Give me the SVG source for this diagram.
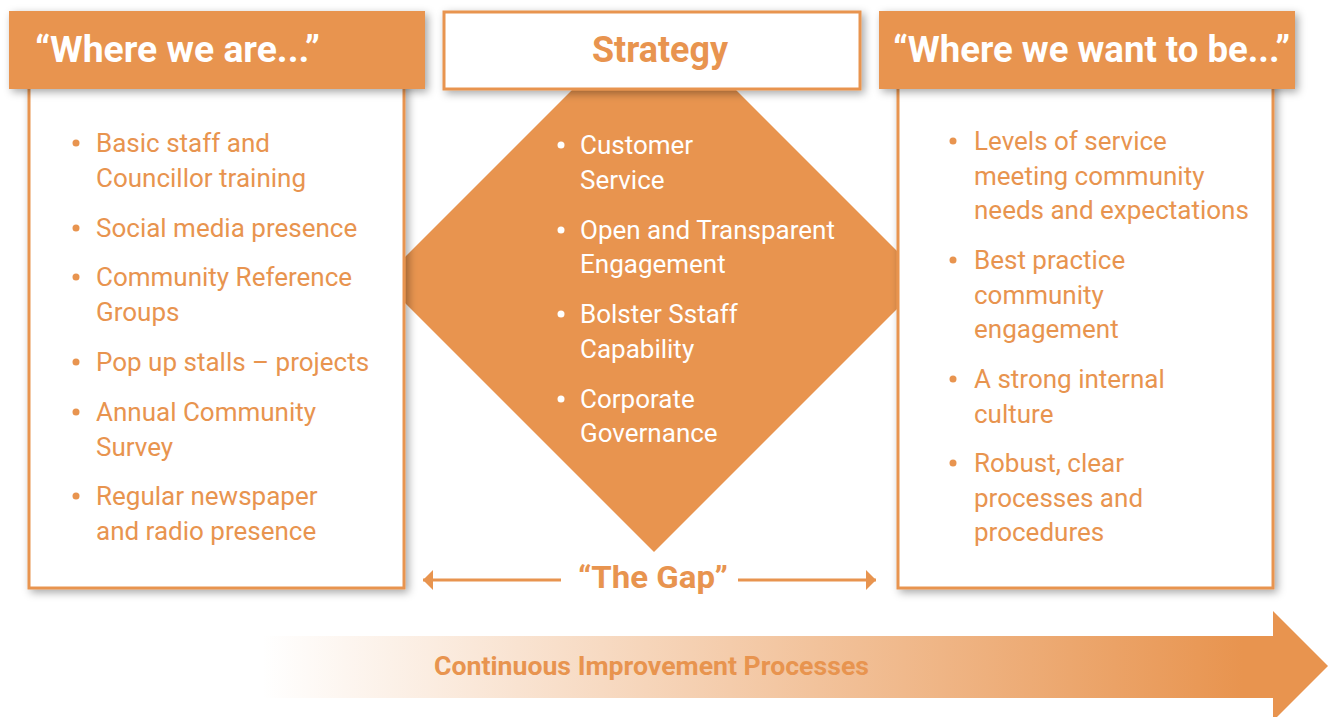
<svg xmlns="http://www.w3.org/2000/svg" width="1335" height="717" viewBox="0 0 1335 717">
  <defs>
    <filter id="shadow" x="-10%" y="-10%" width="130%" height="130%">
      <feDropShadow dx="3" dy="3" stdDeviation="4" flood-color="#000" flood-opacity="0.35"/>
    </filter>
    <linearGradient id="ciFade" x1="262" y1="0" x2="1328" y2="0" gradientUnits="userSpaceOnUse">
      <stop offset="0" stop-color="#E8944F" stop-opacity="0"/>
      <stop offset="0.92" stop-color="#E8944F" stop-opacity="1"/>
      <stop offset="1" stop-color="#E8944F" stop-opacity="1"/>
    </linearGradient>
    <marker id="gapHead" viewBox="0 0 10 20" refX="10" refY="10" markerWidth="10" markerHeight="20" markerUnits="userSpaceOnUse" orient="auto-start-reverse">
      <path d="M0,0 L10,10 L0,20 Z" fill="#E8944F"/>
    </marker>
    <style>
      .body { font-family: Roboto, "Liberation Sans", sans-serif; font-size: 26px; fill: #E8944F; }
      .bodyW { font-family: Roboto, "Liberation Sans", sans-serif; font-size: 26px; fill: #FFFFFF; }
      .head { font-family: Roboto, "Liberation Sans", sans-serif; font-size: 36px; font-weight: 700; }
      .box { fill: #FFFFFF; stroke: #E8944F; stroke-width: 3; }
      .hdr { fill: #E8944F; }
      .dotO { fill: #E8944F; }
      .dotW { fill: #FFFFFF; }
    </style>
  </defs>

  <rect width="1335" height="717" fill="#FFFFFF"/>

  <!-- strategy diamond, sitting behind the side boxes and header -->
  <g id="diamond">
    <polygon points="642,20 666,20 926,280 654,552 382,280" fill="#E8944F"/>
  </g>

  <!-- left column: current state -->
  <g id="where-we-are">
    <rect class="box" x="29" y="80" width="375" height="508" filter="url(#shadow)"/>
    <rect class="hdr" x="9" y="11" width="416" height="78" filter="url(#shadow)"/>
    <text class="head" x="35" y="62" fill="#FFFFFF" textLength="285" lengthAdjust="spacingAndGlyphs">“Where we are...”</text>
    <g class="body">
      <circle class="dotO" cx="76" cy="143" r="3.5"/>
      <text x="96" y="152">Basic staff and</text>
      <text x="96" y="187">Councillor training</text>
      <circle class="dotO" cx="76" cy="228" r="3.5"/>
      <text x="96" y="237">Social media presence</text>
      <circle class="dotO" cx="76" cy="277" r="3.5"/>
      <text x="96" y="286">Community Reference</text>
      <text x="96" y="321">Groups</text>
      <circle class="dotO" cx="76" cy="362" r="3.5"/>
      <text x="96" y="371">Pop up stalls – projects</text>
      <circle class="dotO" cx="76" cy="412" r="3.5"/>
      <text x="96" y="421">Annual Community</text>
      <text x="96" y="456">Survey</text>
      <circle class="dotO" cx="76" cy="496" r="3.5"/>
      <text x="96" y="505">Regular newspaper</text>
      <text x="96" y="540">and radio presence</text>
    </g>
  </g>

  <!-- right column: target state -->
  <g id="where-we-want-to-be">
    <rect class="box" x="898" y="80" width="375" height="508" filter="url(#shadow)"/>
    <rect class="hdr" x="879" y="11" width="416" height="78" filter="url(#shadow)"/>
    <text class="head" x="893" y="62" fill="#FFFFFF" textLength="397" lengthAdjust="spacingAndGlyphs">“Where we want to be...”</text>
    <g class="body">
      <circle class="dotO" cx="953" cy="141" r="3.5"/>
      <text x="974" y="150">Levels of service</text>
      <text x="974" y="185">meeting community</text>
      <text x="974" y="219">needs and expectations</text>
      <circle class="dotO" cx="953" cy="260" r="3.5"/>
      <text x="974" y="269">Best practice</text>
      <text x="974" y="304">community</text>
      <text x="974" y="338">engagement</text>
      <circle class="dotO" cx="953" cy="379" r="3.5"/>
      <text x="974" y="388">A strong internal</text>
      <text x="974" y="423">culture</text>
      <circle class="dotO" cx="953" cy="463" r="3.5"/>
      <text x="974" y="472">Robust, clear</text>
      <text x="974" y="507">processes and</text>
      <text x="974" y="541">procedures</text>
    </g>
  </g>

  <!-- strategy header and its items -->
  <g id="strategy">
    <rect class="box" x="444" y="12" width="416" height="77" filter="url(#shadow)"/>
    <text class="head" x="592" y="62" fill="#E8944F" textLength="136" lengthAdjust="spacingAndGlyphs">Strategy</text>
    <g class="bodyW">
      <circle class="dotW" cx="561" cy="145" r="3.5"/>
      <text x="580" y="154">Customer</text>
      <text x="580" y="189">Service</text>
      <circle class="dotW" cx="561" cy="230" r="3.5"/>
      <text x="580" y="239">Open and Transparent</text>
      <text x="580" y="273">Engagement</text>
      <circle class="dotW" cx="561" cy="314" r="3.5"/>
      <text x="580" y="323">Bolster Sstaff</text>
      <text x="580" y="358">Capability</text>
      <circle class="dotW" cx="561" cy="399" r="3.5"/>
      <text x="580" y="408">Corporate</text>
      <text x="580" y="442">Governance</text>
    </g>
  </g>

  <!-- gap connectors between the two states -->
  <g id="connectors" stroke="#E8944F" stroke-width="3" fill="none">
    <line x1="561" y1="580" x2="423" y2="580" marker-end="url(#gapHead)"/>
    <line x1="738" y1="580" x2="876" y2="580" marker-end="url(#gapHead)"/>
  </g>
  <g id="gap-label">
    <text x="578" y="588" font-family="Roboto, 'Liberation Sans', sans-serif" font-size="32" font-weight="700" fill="#E8944F" textLength="150" lengthAdjust="spacingAndGlyphs">“The Gap”</text>
  </g>

  <!-- continuous improvement arrow -->
  <g id="continuous-improvement">
    <polygon points="262,636 1273,636 1273,611 1328,666 1273,721 1273,698 262,698" fill="url(#ciFade)"/>
    <text x="434" y="675" font-family="Roboto, 'Liberation Sans', sans-serif" font-size="25" font-weight="700" fill="#E8944F" textLength="435" lengthAdjust="spacingAndGlyphs">Continuous Improvement Processes</text>
  </g>
</svg>
